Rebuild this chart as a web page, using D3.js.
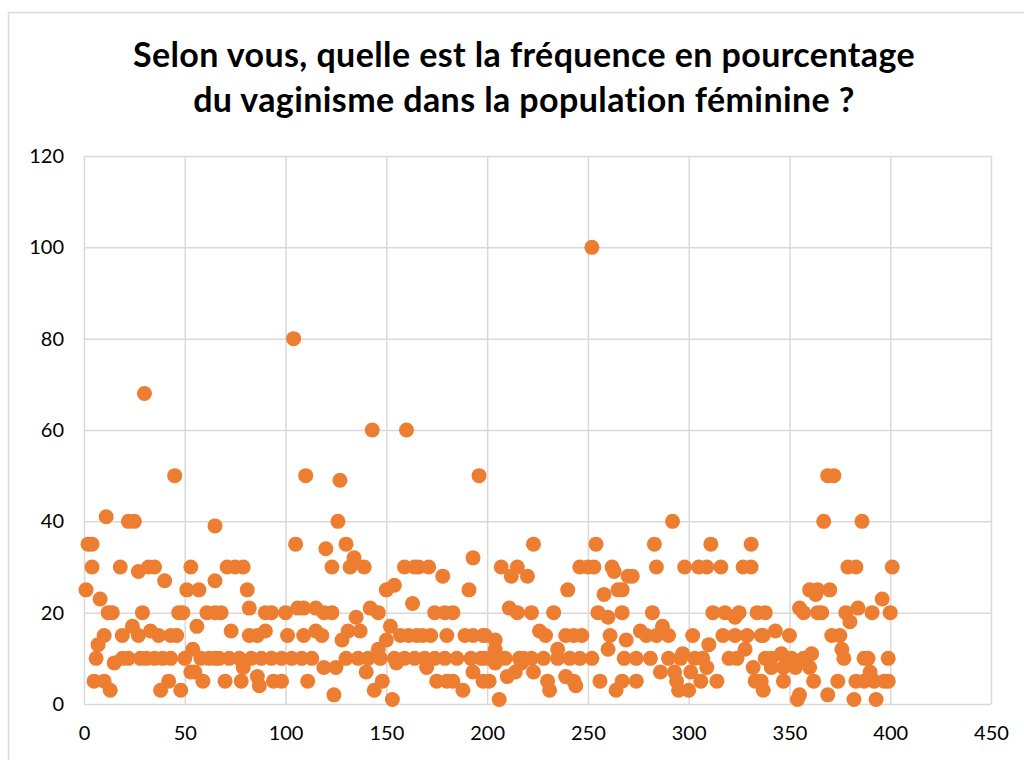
<!DOCTYPE html>
<html>
<head>
<meta charset="utf-8">
<script src="https://cdn.jsdelivr.net/npm/d3@7"></script>
<style>
  body { margin: 0; background: #fff; }
  text { font-family: Lato, "Open Sans", sans-serif; }
</style>
</head>
<body>
<svg id="chart"></svg>
<script>
// titre du graphique, sur deux lignes
var titleLines = [
  "Selon vous, quelle est la fréquence en pourcentage",
  "du vaginisme dans la population féminine ?"
];
// graduations des axes
var xTicks = [0, 50, 100, 150, 200, 250, 300, 350, 400, 450];
var yTicks = [0, 20, 40, 60, 80, 100, 120];

// numero de la repondante (axe x) et reponse en % (axe y)
var respondents = [
  1, 2, 4, 4, 5, 6, 7, 8, 10, 10, 11, 12, 13, 14, 15, 18, 19, 19, 22, 22,
  24, 25, 27, 27, 28, 29, 30, 31, 32, 33, 35, 35, 37, 38, 39, 40, 42, 43, 43, 45,
  46, 47, 48, 49, 50, 51, 53, 53, 54, 55, 56, 57, 58, 59, 61, 62, 65, 65, 65, 65,
  67, 68, 70, 71, 72, 73, 75, 77, 78, 79, 79, 81, 82, 82, 83, 86, 86, 87, 88, 90,
  90, 93, 93, 94, 98, 98, 100, 101, 103, 104, 105, 106, 108, 109, 109, 110, 111, 113, 115, 115,
  118, 119, 119, 120, 123, 123, 124, 125, 126, 127, 128, 130, 130, 131, 132, 134, 135, 136, 137, 139,
  140, 141, 142, 143, 144, 146, 146, 147, 148, 150, 150, 152, 153, 154, 154, 155, 157, 159, 159, 160,
  161, 163, 164, 164, 165, 166, 168, 169, 170, 171, 172, 174, 174, 175, 178, 179, 179, 180, 180, 183,
  183, 185, 188, 189, 191, 192, 193, 193, 193, 196, 197, 198, 198, 199, 199, 201, 203, 204, 204, 204,
  206, 207, 209, 210, 211, 212, 214, 215, 215, 216, 217, 218, 220, 222, 222, 223, 223, 226, 228, 229,
  230, 231, 233, 235, 235, 239, 239, 240, 241, 243, 243, 244, 246, 246, 247, 250, 252, 252, 253, 254,
  255, 256, 258, 260, 260, 261, 262, 263, 264, 265, 267, 267, 267, 268, 269, 270, 272, 274, 274, 276,
  279, 281, 282, 283, 284, 284, 286, 287, 290, 290, 292, 293, 294, 295, 296, 297, 298, 300, 301, 302,
  303, 305, 306, 307, 309, 309, 310, 311, 312, 314, 316, 317, 318, 320, 323, 323, 324, 325, 327, 328,
  329, 331, 331, 332, 333, 334, 336, 336, 337, 337, 338, 338, 341, 341, 343, 346, 347, 347, 350, 351,
  353, 354, 355, 355, 357, 357, 360, 360, 361, 362, 363, 364, 364, 366, 367, 369, 369, 370, 371, 372,
  374, 375, 376, 377, 378, 379, 380, 382, 383, 383, 384, 386, 387, 387, 389, 390, 391, 392, 393, 396,
  397, 399, 399, 400, 401
];
var answers = [
  25, 35, 35, 30, 5, 10, 13, 23, 15, 5, 41, 20, 3, 20, 9, 30, 10, 15, 10, 40,
  17, 40, 29, 15, 10, 20, 68, 10, 30, 16, 30, 10, 15, 3, 10, 27, 5, 10, 15, 50,
  15, 20, 3, 20, 10, 25, 30, 7, 12, 7, 17, 25, 10, 5, 20, 10, 20, 10, 27, 39,
  10, 20, 5, 30, 10, 16, 30, 10, 5, 30, 8, 25, 21, 15, 10, 15, 6, 4, 10, 20,
  16, 20, 10, 5, 10, 5, 20, 15, 10, 80, 35, 21, 10, 21, 15, 50, 5, 10, 21, 16,
  15, 20, 8, 34, 20, 30, 2, 8, 40, 49, 14, 10, 35, 16, 30, 32, 19, 10, 16, 30,
  7, 10, 21, 60, 3, 20, 12, 10, 5, 14, 25, 17, 1, 26, 10, 9, 15, 10, 30, 60,
  15, 22, 30, 10, 15, 30, 15, 10, 8, 30, 15, 20, 10, 5, 28, 10, 20, 15, 5, 20,
  5, 10, 3, 15, 25, 10, 32, 15, 7, 50, 10, 15, 5, 15, 10, 5, 10, 14, 12, 9,
  1, 30, 10, 6, 21, 28, 7, 30, 20, 10, 9, 10, 28, 20, 10, 35, 7, 16, 10, 15,
  5, 3, 20, 12, 10, 15, 6, 25, 10, 15, 5, 4, 30, 10, 15, 30, 100, 10, 30, 35,
  20, 5, 24, 19, 12, 15, 30, 29, 3, 25, 20, 25, 5, 10, 14, 28, 28, 10, 5, 16,
  15, 10, 20, 35, 15, 30, 7, 17, 15, 10, 40, 7, 5, 3, 10, 11, 30, 3, 7, 15,
  10, 30, 5, 10, 30, 8, 13, 35, 20, 5, 30, 15, 20, 10, 19, 15, 10, 20, 30, 12,
  15, 35, 30, 8, 5, 20, 15, 5, 15, 3, 20, 10, 10, 8, 16, 11, 8, 5, 15, 10,
  8, 1, 21, 2, 20, 10, 25, 8, 11, 5, 24, 20, 25, 20, 40, 50, 2, 25, 15, 50,
  5, 15, 12, 10, 20, 30, 18, 1, 30, 5, 21, 40, 10, 5, 10, 7, 20, 5, 1, 23,
  5, 10, 5, 20, 30
];

var width = 1024;
var height = 760;
// zone de tracé
var plot = { left: 84, right: 991, top: 156, bottom: 704 };

var svg = d3.select("#chart")
  .attr("width", width)
  .attr("height", height);

// cadre du graphique (le bord droit et le bas sont hors de l'image)
svg.append("rect")
  .attr("x", 8.5)
  .attr("y", 12.5)
  .attr("width", 1040)
  .attr("height", 780)
  .attr("fill", "none")
  .attr("stroke", "#d9d9d9")
  .attr("stroke-width", 1.5);

var x = d3.scaleLinear().domain([0, 450]).range([plot.left, plot.right]);
var y = d3.scaleLinear().domain([0, 120]).range([plot.bottom, plot.top]);

// titre
svg.append("g")
  .selectAll("text")
  .data(titleLines)
  .enter()
  .append("text")
  .attr("x", 524)
  .attr("y", (d, i) => 67 + i * 45)
  .attr("text-anchor", "middle")
  .attr("font-size", 34)
  .attr("font-weight", "bold")
  .attr("letter-spacing", 0.4)
  .attr("fill", "#000")
  .text(d => d);

// grille horizontale + axe y
var yAxis = svg.append("g")
  .attr("transform", "translate(" + plot.left + ",0)")
  .call(d3.axisLeft(y).tickValues(yTicks).tickSize(-(plot.right - plot.left)).tickPadding(20));
// grille verticale + axe x
var xAxis = svg.append("g")
  .attr("transform", "translate(0," + plot.bottom + ")")
  .call(d3.axisBottom(x).tickValues(xTicks).tickSize(-(plot.bottom - plot.top)).tickPadding(22));

[yAxis, xAxis].forEach(function (ax) {
  ax.select(".domain").remove();
  ax.selectAll(".tick line").attr("stroke", "#d9d9d9").attr("stroke-width", 1.5);
  ax.selectAll(".tick text")
    .attr("font-size", 20)
    .attr("fill", "#000")
    .style("font-family", "Lato, 'Open Sans', sans-serif");
});

// points
svg.append("g")
  .selectAll("circle")
  .data(respondents)
  .enter()
  .append("circle")
  .attr("cx", d => x(d))
  .attr("cy", (d, i) => y(answers[i]))
  .attr("r", 7.5)
  .attr("fill", "#ed7d31");
</script>
</body>
</html>
